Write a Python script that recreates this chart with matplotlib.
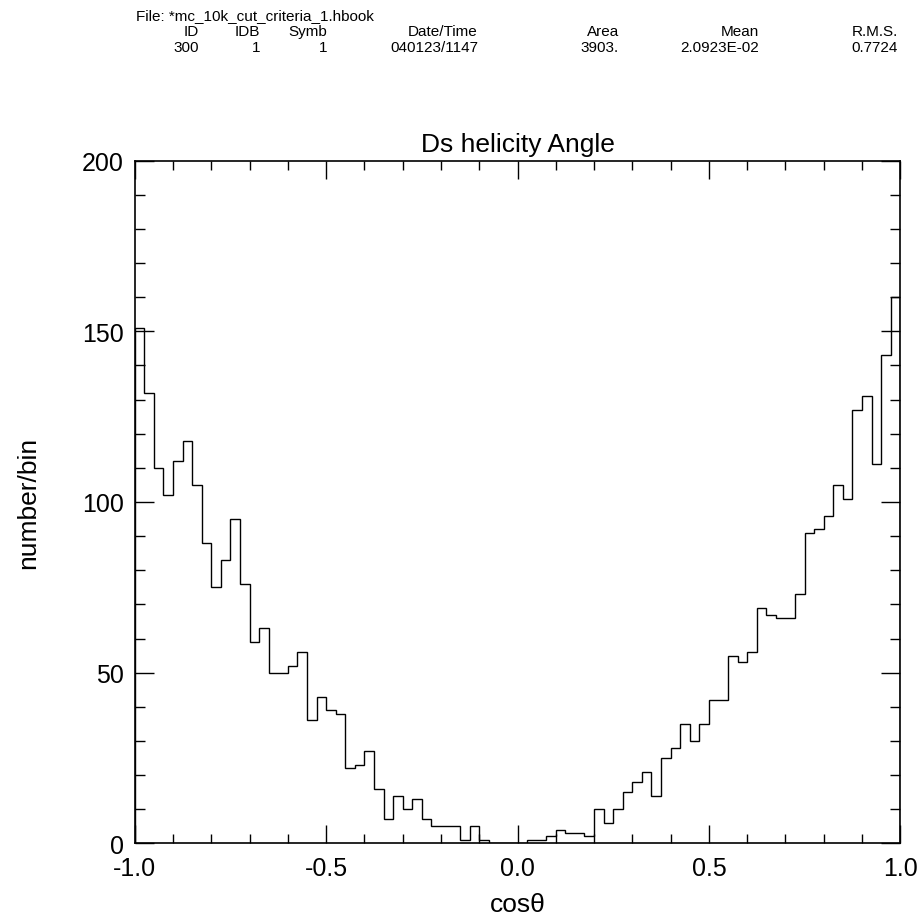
import numpy as np
import matplotlib.pyplot as plt
from matplotlib.ticker import MultipleLocator

plt.rcParams['font.family'] = ['Liberation Sans', 'DejaVu Sans']
plt.rcParams['axes.unicode_minus'] = False

# Ds helicity angle histogram, 80 bins on [-1, 1]
x_lo, x_hi = -1.0, 1.0
counts = [151, 132, 110, 102, 112, 118, 105, 88, 75, 83,
          95, 76, 59, 63, 50, 50, 52, 56, 36, 43,
          39, 38, 22, 23, 27, 16, 7, 14, 10, 13,
          7, 5, 5, 5, 1, 5, 1, 0, 0, 0,
          0, 1, 1, 2, 4, 3, 3, 2, 10, 6,
          10, 15, 18, 21, 14, 25, 28, 35, 30, 35,
          42, 42, 55, 53, 56, 69, 67, 66, 66, 73,
          91, 92, 96, 105, 101, 127, 131, 111, 143, 160]

title = 'Ds helicity Angle'
xlabel = 'cos\u03b8'
ylabel = 'number/bin'

file_line = 'File: *mc_10k_cut_criteria_1.hbook'
head_names = ['ID', 'IDB', 'Symb', 'Date/Time', 'Area', 'Mean', 'R.M.S.']
head_values = ['300', '1', '1', '040123/1147', '3903.', '2.0923E-02', '0.7724']
head_right = [199, 260, 327, 478, 619, 759, 898]  # right edges in pixels

W, H = 924, 920
fig = plt.figure(figsize=(W / 100, H / 100), dpi=100)
ax = fig.add_axes([134.7 / W, 1 - 844.3 / H, 765.6 / W, 682.6 / H])

edges = np.linspace(x_lo, x_hi, len(counts) + 1)
ax.stairs(counts, edges, color='black', linewidth=1.0)

ax.set_xlim(x_lo, x_hi)
ax.set_ylim(0, 200)
ax.xaxis.set_major_locator(MultipleLocator(0.5))
ax.xaxis.set_minor_locator(MultipleLocator(0.1))
ax.yaxis.set_major_locator(MultipleLocator(50))
ax.yaxis.set_minor_locator(MultipleLocator(10))
ax.xaxis.set_major_formatter(lambda v, p: f'{v:.1f}')

ax.tick_params(which='both', direction='in', top=True, right=True, width=1.0)
ax.tick_params(which='major', labelsize=18)
ax.tick_params(axis='x', which='major', length=13, pad=9)
ax.tick_params(axis='x', which='minor', length=6.5)
ax.tick_params(axis='y', which='major', length=14, pad=8)
ax.tick_params(axis='y', which='minor', length=7)
for s in ax.spines.values():
    s.set_linewidth(1.2)

ax.set_title(title, fontsize=19, pad=7)
ax.set_xlabel(xlabel, fontsize=19)
ax.set_ylabel(ylabel, fontsize=19)
ax.xaxis.set_label_coords(0.5, -0.072)
ax.yaxis.set_label_coords(-0.124, 0.5)

# PAW style header
fig.text(136 / W, 1 - 20 / H, file_line, fontsize=11, ha='left', va='baseline')
for name, val, xr in zip(head_names, head_values, head_right):
    fig.text(xr / W, 1 - 36 / H, name, fontsize=11, ha='right', va='baseline')
    fig.text(xr / W, 1 - 52 / H, val, fontsize=11, ha='right', va='baseline')

fig.savefig('out.png', dpi=100)
